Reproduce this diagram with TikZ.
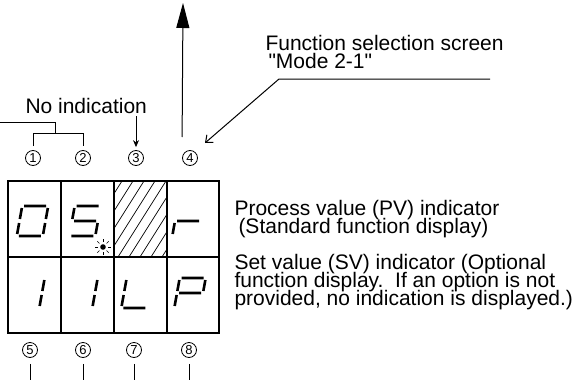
\documentclass[tikz,border=0pt]{standalone}
\usepackage{fontspec}
\setmainfont{Liberation Sans}[Ligatures=TeXOff]
\usetikzlibrary{arrows.meta}

% segments of one display digit, centre at (0,0), y pointing down
\newcommand{\sgA}{(-11,-15) -- (11,-15)}
\newcommand{\sgB}{(13,-13) -- (13,-2)}
\newcommand{\sgC}{(13,2) -- (13,13)}
\newcommand{\sgD}{(-11,15) -- (11,15)}
\newcommand{\sgE}{(-13,2) -- (-13,13)}
\newcommand{\sgF}{(-13,-13) -- (-13,-2)}
\newcommand{\sgG}{(-11,0) -- (11,0)}

\tikzset{
  segline/.style={line width=2.6pt, xslant=.18},
  pics/digzero/.style={code={\draw[segline] \sgA \sgB \sgC \sgD \sgE \sgF;}},
  pics/digfive/.style={code={\draw[segline] \sgA \sgF \sgG \sgC \sgD;}},
  pics/digr/.style={code={\draw[segline] \sgG \sgE;}},
  pics/digone/.style={code={\draw[segline] \sgB \sgC;}},
  pics/digL/.style={code={\draw[segline] \sgF \sgE \sgD;}},
  pics/digP/.style={code={\draw[segline] \sgA \sgB \sgG \sgF \sgE;}},
}

\begin{document}
\begin{tikzpicture}[x=1pt, y=-1pt, line width=1pt,
    num/.style={circle, draw, line width=.8pt, minimum size=15pt, inner sep=0pt,
      font=\fontsize{13}{13}\selectfont},
    lbl/.style={anchor=base west, inner sep=0pt, align=left,
      font={\fontsize{21}{18}\selectfont\lineskiplimit=-30pt}}]
  \useasboundingbox (0,0) rectangle (578,380);

  % display frame
  \draw[line width=1.3pt] (8,181) rectangle (219,333);
  \draw[line width=1.3pt] (8,257) -- (219,257);
  \foreach \x in {61, 114, 167} {
    \draw[line width=1.3pt] (\x,181) -- (\x,333);
  }

  % hatched digit (no indication)
  \begin{scope}
    \clip (114,181) rectangle (167,257);
    \foreach \x in {63, 74, ..., 162} {
      \draw[line width=.7pt] (\x,257) -- ++(48,-76);
    }
  \end{scope}

  % digits
  \pic at (32.5,221) {digzero};
  \pic at (85,221) {digfive};
  \pic at (188,221) {digr};
  \pic at (29,293) {digone};
  \pic at (82,293) {digone};
  \pic at (137,293) {digL};
  \pic at (190,293) {digP};

  % blinking decimal point
  \fill (103,247) circle (2.8pt);
  \foreach \a in {0, 45, ..., 315} {
    \draw[line width=.6pt] (103,247) ++(\a:5) -- ++(\a:3);
  }

  % circled numbers
  \foreach \i/\x in {1/33, 2/83, 3/136, 4/190} {
    \node[num] (n\i) at (\x,158) {\i};
  }
  \foreach \i/\x in {5/30, 6/83, 7/134, 8/189} {
    \node[num] (n\i) at (\x,350) {\i};
  }

  % no indication
  \node[lbl] (noind) at (25,113) {No indication};
  \coordinate (brk) at (0,122);
  \draw (brk) -| (55,133);
  \draw ([yshift=4pt]n1.north) -- (n1.north |- 0,133) -- (n2.north |- 0,133)
    -- ([yshift=4pt]n2.north);
  \coordinate (noarr) at (136,116);
  \draw[-{Stealth[length=7pt, width=6pt]}] (noarr) -- ([yshift=3pt]n3.north);

  % big arrow from 4
  \coordinate (up) at (183,3);
  \draw[-{Triangle[length=25pt, width=13pt]}] (n4.west |- 0,137) -- (up);

  % function selection screen
  \node[lbl] (fss) at (265,68) {Function selection screen\\\hspace*{3pt}"Mode 2-1"};
  \coordinate (fsa) at (490,79);
  \coordinate (fsb) at (279,79);
  \coordinate (fsend) at (205,143);
  \draw[-{Straight Barb[length=6pt, width=10pt]}] (fsa) -- (fsb) -- (fsend);

  % indicators
  \node[lbl] (pv) at (234,233) {Process value (PV) indicator\\
    \hspace*{4pt}(Standard function display)};
  \node[lbl] (sv) at (234,305) {Set value (SV) indicator (Optional\\
    function display.\ \ If an option is not\\
    provided, no indication is displayed.)};

  % leads below
  \foreach \i in {5, 6, 7, 8} {
    \draw ([yshift=-6pt]n\i.south) -- (n\i |- 0,380);
  }
\end{tikzpicture}
\end{document}
